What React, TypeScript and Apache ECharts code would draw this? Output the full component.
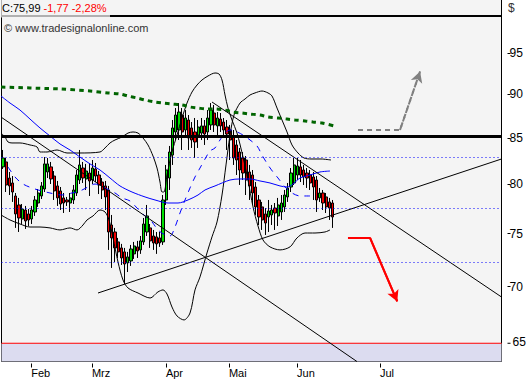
import React, { useEffect, useRef } from "react";
import * as echarts from "echarts";

const FONT = "'Liberation Sans', Arial, sans-serif";

// x axis: trading-bar index; month ticks
const monthLabels = ["Feb", "Mrz", "Apr", "Mai", "Jun", "Jul"];
const monthPos = [8.8, 27.8, 50.9, 70.6, 91.9, 117.8];
const priceTicks = [70, 75, 80, 85, 90, 95];
const bottomTick = 65;

// candles
const opens = [81.84, 82.37, 80.66, 80.14, 78.79, 77.87, 76.46, 77.36, 76.96,
  76.46, 77.16, 78.07, 78.79, 79.51, 81.30, 81.84, 80.87, 79.83, 79.31, 78.59, 78.38, 78.07, 78.38, 79.10, 80.45, 81.72, 80.56, 81.19,
  80.45, 81.62, 80.98, 80.24, 79.83, 79.41, 75.86, 75.17, 74.20, 73.62, 73.24, 72.19, 72.38, 73.05, 73.72, 73.43, 74.20, 75.17, 75.57, 74.78, 74.69, 74.59, 74.20,
  78.38, 80.66, 83.12, 85.66, 85.88, 87.58, 85.88, 87.01, 86.11, 85.66, 85.32, 85.54, 86.34, 85.66, 86.45, 87.81, 86.34, 87.12, 86.78, 86.22,
  85.88, 85.21, 84.22, 83.45, 82.80, 82.58, 81.30, 80.98, 79.72, 78.38, 77.67, 76.96, 76.66, 76.86, 77.56, 76.76, 77.16, 77.67, 78.69, 79.72, 80.14,
  80.98, 81.84, 81.51, 81.19, 80.98, 80.77, 80.45, 78.59, 79.10, 78.69, 78.18, 78.07];
const closes = [82.80, 79.93, 79.83, 79.20, 76.96, 76.56, 77.46, 76.26, 76.36,
  77.36, 78.38, 79.10, 79.83, 82.16, 82.16, 80.56, 79.31, 78.59, 77.97, 78.07, 78.18, 78.59, 79.41, 80.98, 82.05, 80.66, 81.40, 80.35,
  81.72, 80.87, 79.93, 79.41, 78.69, 75.17, 74.59, 73.62, 73.24, 72.66, 72.09, 72.76, 73.52, 73.81, 73.33, 74.30, 75.96, 76.76, 74.30, 74.10, 74.01, 74.10, 78.38,
  81.51, 83.45, 86.11, 87.58, 87.92, 85.66, 87.24, 84.99, 84.77, 84.55, 86.22, 86.34, 85.43, 87.24, 88.15, 86.45, 87.24, 86.34, 85.88, 85.43,
  84.77, 82.80, 82.58, 81.51, 81.19, 80.45, 79.83, 79.10, 77.67, 76.66, 76.36, 76.06, 77.26, 77.36, 77.06, 77.87, 78.07, 78.89, 79.62, 81.19, 82.05,
  81.94, 80.98, 80.77, 80.66, 80.14, 79.72, 78.38, 79.10, 78.07, 77.67, 77.56, 76.66];
const lows = [81.62, 79.20, 78.89, 78.18, 75.57, 75.17, 75.96, 75.47, 75.76,
  75.96, 76.76, 77.67, 78.48, 79.20, 80.66, 80.03, 78.38, 77.77, 77.36, 77.06, 77.77, 77.16, 77.97, 78.79, 80.03, 80.14, 79.41, 78.79,
  80.03, 80.24, 78.99, 78.48, 77.36, 73.43, 71.72, 72.28, 72.66, 72.00, 70.23, 71.34, 71.91, 72.57, 72.66, 73.05, 73.91, 74.78, 73.62, 73.43, 73.05, 73.72, 73.91,
  77.87, 79.41, 82.05, 84.77, 84.77, 83.67, 84.99, 83.67, 83.89, 82.80, 83.89, 84.77, 84.22, 84.77, 85.88, 85.66, 85.32, 85.66, 85.32, 83.67,
  82.58, 82.05, 80.98, 79.93, 80.45, 78.89, 78.38, 77.87, 76.86, 75.86, 75.37, 74.88, 75.17, 75.86, 75.37, 75.76, 76.36, 77.16, 78.18, 79.20, 79.93,
  80.45, 80.24, 79.93, 79.62, 79.41, 78.38, 77.16, 78.18, 77.36, 77.06, 76.36, 75.57];
const highs = [83.67, 82.80, 81.30, 80.87, 79.10, 78.59, 77.97, 77.77, 77.46,
  77.77, 78.79, 79.51, 80.24, 82.90, 82.80, 82.37, 81.40, 80.35, 79.72, 79.10, 78.69, 79.10, 79.93, 81.51, 83.67, 82.37, 82.16, 82.26,
  82.58, 82.26, 81.40, 80.66, 80.35, 79.83, 76.86, 75.57, 74.59, 74.01, 73.62, 73.24, 73.91, 74.20, 74.30, 74.78, 76.56, 77.87, 75.96, 75.37, 75.17, 75.17, 78.89,
  82.05, 84.11, 87.01, 88.38, 88.96, 88.38, 88.15, 87.58, 86.78, 87.24, 87.01, 87.24, 87.01, 88.15, 88.96, 88.73, 87.92, 87.81, 87.24, 87.01,
  86.45, 85.88, 84.77, 83.89, 83.45, 83.01, 82.05, 81.51, 80.24, 78.89, 78.18, 77.56, 78.38, 77.87, 78.07, 78.59, 78.89, 79.41, 80.14, 81.72, 82.80,
  82.80, 82.58, 82.05, 81.72, 81.51, 81.30, 80.87, 79.62, 79.41, 79.10, 78.59, 78.38];

// envelope curves [barIndex, price]
const band1 = [[-0.63, 85.54], [0.63, 85.10], [1.56, 84.55], [2.81, 84.44], [5.31, 84.44], [8.44, 84.22], [10.63, 84.0], [11.56, 83.45], [13.75, 83.45], [16.88, 83.67], [20, 83.34], [24.06, 83.34], [30.31, 83.45], [31.88, 83.89], [33.44, 84.44], [35, 84.77], [37.19, 85.10], [39.06, 85.54], [40.63, 85.66], [42.19, 85.54], [43.75, 84.99], [45.31, 84.22], [46.88, 83.01], [48.13, 81.72], [49.06, 80.24], [49.69, 79.20], [50.31, 79.20], [51.25, 80.98], [52.81, 83.45], [54.38, 85.32], [55.94, 87.24], [57.5, 88.96], [59.06, 90.25], [60.63, 91.08], [62.19, 91.68], [64.06, 92.16], [66.25, 92.52], [67.5, 92.40], [68.44, 91.68], [69.38, 89.90], [70.31, 88.38], [71.56, 87.01], [73.13, 85.54], [75, 82.90], [76.56, 80.45], [78.13, 77.67], [79.69, 75.76], [81.25, 74.39], [83.44, 73.72], [86.56, 73.43], [89.69, 73.72], [91.88, 74.59], [94.38, 75.07], [97.5, 75.07], [100.63, 75.17], [102.19, 75.37]];
const band2 = [[-0.63, 76.86], [2.19, 76.36], [5.31, 75.96], [8.44, 75.66], [11.56, 75.66], [14.69, 75.57], [17.81, 75.37], [20.94, 75.57], [23.13, 75.37], [25, 75.86], [26.25, 76.36], [28.13, 76.76], [30.31, 77.36], [31.88, 77.16], [33.13, 76.36], [34.38, 74.59], [35.94, 72.28], [37.5, 70.60], [39.06, 69.87], [42.19, 69.41], [45.94, 68.96], [48.44, 69.51], [50, 69.69], [51.25, 69.32], [52.81, 68.15], [54.38, 67.36], [56.56, 67.01], [58.44, 67.62], [60, 69.69], [61.56, 70.88], [63.75, 73.14], [65.31, 74.69], [66.88, 76.16], [68.44, 78.89], [69.69, 82.05], [70.94, 85.32], [72.19, 87.58], [74.06, 88.96], [75.63, 89.43], [77.19, 89.90], [78.75, 90.14], [80.94, 90.37], [82.81, 90.14], [84.06, 89.78], [85.63, 88.38], [87.19, 87.01], [88.75, 85.66], [90.31, 84.22], [92.19, 83.34], [94.06, 82.80], [96.25, 82.69], [99.38, 82.69], [102.5, 82.58]];
const maSlow = [[-0.63, 89.78], [2.19, 88.96], [5.31, 88.15], [8.44, 87.12], [11.56, 86.11], [14.69, 85.21], [17.81, 84.33], [20.94, 83.67], [24.06, 82.90], [27.19, 82.16], [30.31, 81.51], [33.44, 80.66], [36.56, 79.83], [40.31, 79.20], [44.38, 78.69], [47.5, 78.38], [51.56, 78.07], [54.69, 78.07], [57.81, 78.38], [60.94, 78.89], [63.13, 79.41], [66.25, 79.83], [70.94, 80.45], [74.06, 80.56], [77.19, 80.56], [80.31, 80.35], [83.44, 80.14], [86.56, 79.83], [88.75, 79.72], [90.63, 80.03], [92.81, 80.66], [95.94, 80.98], [99.06, 81.30], [102.19, 81.40]];
const maFast = [[1.56, 81.84], [3.75, 80.77], [6.25, 80.03], [10, 79.51], [14.69, 79.10], [18.44, 78.89], [21.56, 79.10], [24.06, 79.31], [26.56, 79.72], [28.75, 80.03], [31.88, 79.62], [35, 79.10], [37.19, 78.59], [39.69, 78.28], [41.88, 77.56], [44.38, 76.76], [46.56, 76.16], [48.44, 75.37], [50.63, 74.88], [52.19, 74.78], [53.75, 75.66], [55.31, 77.06], [56.88, 78.38], [58.44, 79.62], [60, 80.77], [61.56, 81.72], [63.13, 82.69], [64.69, 83.56], [66.25, 83.89], [67.81, 84.77], [69.38, 85.54], [70.94, 85.88], [72.5, 85.77], [75, 85.32], [77.19, 84.77], [79.38, 84.11], [80.94, 83.12], [82.81, 82.05], [84.38, 81.30], [85.94, 80.66], [88.13, 79.72], [90.31, 79.10], [92.81, 78.79], [95.94, 78.79]];
const ma200 = [[-0.63, 90.84], [8.44, 90.73], [17.81, 90.61], [27.19, 90.37], [32.81, 90.14], [36.56, 90.02], [39.06, 89.78], [41.88, 89.55], [44.38, 89.31], [47.5, 89.08], [50, 88.96], [52.81, 88.85], [55.94, 88.73], [58.44, 88.50], [60.94, 88.38], [63.75, 88.27], [66.25, 88.27], [69.38, 88.15], [71.88, 87.92], [74.69, 87.81], [77.19, 87.69], [80.31, 87.58], [82.81, 87.35], [85.94, 87.24], [88.75, 87.12], [91.25, 87.01], [94.38, 86.90], [96.88, 86.78], [99.69, 86.67], [103.44, 86.34]];

// trend lines
const trendA = [[-0.63, 87.35], [110.6, 63.47]];
const trendB = [[65.31, 89.08], [155.78, 69.05]];
const trendC = [[29.69, 69.41], [155.78, 82.69]];

// horizontal levels
const levelTop = 99.67;
const levelRes = 85.2;
const levelFloor = 65;
const dottedLevels = [82.9, 77.56, 72.28];

// projection arrows
const grayArrow = [[110.94, 85.88], [124.06, 85.88], [130.34, 92.71]];
const redArrow = [[107.8, 74.59], [114.7, 74.59], [123.2, 68.65]];

const Y_MIN = 63.47;
const Y_MAX = 101.91;
const X_MIN = -0.469;
const X_MAX = 155.78;

export default function App() {
  const ref = useRef<HTMLDivElement>(null);
  useEffect(() => {
    if (!ref.current) return;
    const chart = echarts.init(ref.current, null, { renderer: "svg" });
    const candles = opens.map((o, i) => [i, o, closes[i], lows[i], highs[i]]);
    const plainLine = (data: number[][], color: string, width: number, type: any, z = 4, smooth: any = false) => ({
      type: "line",
      data,
      symbol: "none",
      smooth,
      silent: true,
      z,
      lineStyle: { color, width, type, cap: "butt" },
      emphasis: { disabled: true },
    });
    const baseGraphic: any[] = [
      { type: "rect", z: 100, shape: { x: 0, y: 0, width: 110, height: 17.5 }, style: { fill: "rgba(244,244,244,0.72)" } },
      {
        type: "text", z: 101, x: 2, y: 2,
        style: {
          text: "{b|C:75,99} {r|-1,77 -2,28%}",
          rich: {
            b: { fill: "#000", fontSize: 11, fontFamily: FONT },
            r: { fill: "#ff0000", fontSize: 11, fontFamily: FONT },
          },
          fontSize: 11, fontFamily: FONT,
        },
      },
      { type: "text", z: 101, x: 4, y: 22, style: { text: "© www.tradesignalonline.com", fill: "#333", fontSize: 11, fontFamily: FONT } },
      { type: "text", z: 101, x: 508, y: 2, style: { text: "$", fill: "#333", fontSize: 12, fontFamily: FONT } },
    ];
    const option: any = {
      animation: false,
      textStyle: { fontFamily: FONT },
      grid: {
        left: 1.5, right: 25.5, top: -1, bottom: 18.5,
        show: true, backgroundColor: "#f4f4f4", borderColor: "#000", borderWidth: 1,
        containLabel: false, outerBoundsMode: "none",
      },
      xAxis: {
        type: "value", min: X_MIN, max: X_MAX, offset: 2,
        axisLine: { show: false, onZero: false }, splitLine: { show: false },
        axisTick: { show: true, customValues: monthPos, length: 4, lineStyle: { color: "#000", width: 1 } },
        axisLabel: {
          customValues: monthPos, align: "left", margin: 4, fontSize: 11, color: "#000", fontFamily: FONT,
          formatter: (v: number) => {
            let best = 0;
            monthPos.forEach((p, i) => { if (Math.abs(p - v) < Math.abs(monthPos[best] - v)) best = i; });
            return monthLabels[best];
          },
        },
      },
      yAxis: {
        type: "log", logBase: 10, min: Y_MIN, max: Y_MAX, position: "right", offset: 6,
        axisLine: { show: false, onZero: false }, splitLine: { show: false }, minorTick: { show: false },
        axisTick: { show: true, customValues: priceTicks, length: 3, lineStyle: { color: "#000", width: 1 } },
        axisLabel: { customValues: priceTicks, margin: 2, fontSize: 12, color: "#000", fontFamily: FONT },
      },
      series: [
        {
          type: "line", data: [], silent: true, z: 1,
          markArea: { silent: true, itemStyle: { color: "#dcdcf0" }, data: [[{ yAxis: Y_MIN }, { yAxis: levelFloor }]] },
          markLine: {
            silent: true, symbol: "none", label: { show: false },
            data: dottedLevels.map((v) => ({ yAxis: v, lineStyle: { color: "#0000ff", width: 1, type: [1, 3] } })),
          },
        },
        plainLine([[X_MIN, levelFloor], [X_MAX, levelFloor]], "#ff0000", 1, "solid", 3),
        {
          type: "candlestick", data: candles, barWidth: 2.6, z: 2, silent: true,
          itemStyle: { color: "#00e000", color0: "#f00000", borderColor: "#000", borderColor0: "#000", borderWidth: 1 },
        },
        plainLine(band1, "#000", 1, "solid", 4, 0.3),
        plainLine(band2, "#000", 1, "solid", 4, 0.3),
        plainLine(maSlow, "#0000ff", 1, "solid", 4, 0.3),
        plainLine(maFast, "#0000ff", 1, [6, 6], 4, 0.3),
        plainLine(ma200, "#006400", 3, [4.5, 4.2], 4, 0.3),
        plainLine(trendA, "#000", 1, "solid"),
        plainLine(trendB, "#000", 1, "solid"),
        plainLine(trendC, "#000", 1, "solid"),
        {
          type: "line", data: [], silent: true, z: 5,
          markLine: {
            silent: true, symbol: "none", label: { show: false },
            data: [
              { yAxis: levelRes, lineStyle: { color: "#000", width: 3, type: "solid" } },
              { yAxis: levelTop, lineStyle: { color: "#000", width: 2, type: "solid" } },
            ],
          },
        },
        {
          ...plainLine(grayArrow, "#808080", 2, [5, 4], 6),
          markLine: {
            silent: true, symbol: ["none", "arrow"], symbolSize: [9, 11], label: { show: false },
            lineStyle: { color: "#808080", width: 2, type: [5, 4] },
            data: [[{ coord: grayArrow[1] }, { coord: grayArrow[2] }]],
          },
        },
        {
          ...plainLine(redArrow, "#ff0000", 2, "solid", 6),
          markLine: {
            silent: true, symbol: ["none", "arrow"], symbolSize: [9, 11], label: { show: false },
            lineStyle: { color: "#ff0000", width: 2, type: "solid" },
            data: [[{ coord: redArrow[1] }, { coord: redArrow[2] }]],
          },
        },
      ],
      graphic: baseGraphic,
    };
    chart.setOption(option);
    // place the lowest price label on the log scale using the axis' own positions of 70 and 75
    const y70 = Number(chart.convertToPixel({ yAxisIndex: 0 }, 70));
    const y75 = Number(chart.convertToPixel({ yAxisIndex: 0 }, 75));
    const y65 = y70 + (y70 - y75) * (Math.log(70 / bottomTick) / Math.log(75 / 70));
    const xTick = 501.5 + 6;
    if (isFinite(y65)) {
      chart.setOption({
        graphic: [
          ...baseGraphic,
          { type: "line", z: 101, shape: { x1: xTick, y1: y65, x2: xTick + 3, y2: y65 }, style: { stroke: "#000", lineWidth: 1 } },
          { type: "text", z: 101, x: xTick + 5, y: y65 - 7, style: { text: String(bottomTick), fill: "#000", fontSize: 12, fontFamily: FONT } },
        ],
      });
    }
    return () => chart.dispose();
  }, []);
  return <div ref={ref} style={{ position: "absolute", left: 0, top: 0, width: 527, height: 380, background: "#fff" }} />;
}
